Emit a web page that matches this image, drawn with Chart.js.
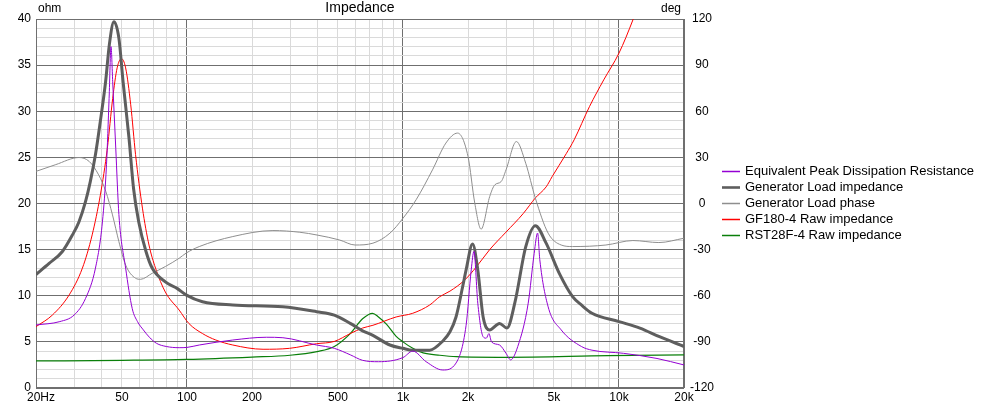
<!DOCTYPE html>
<html><head><meta charset="utf-8">
<script src="https://cdn.jsdelivr.net/npm/chart.js@4.4.1/dist/chart.umd.min.js"></script>
<style>
html,body{margin:0;padding:0;background:#fff;overflow:hidden}
#wrap{position:relative;width:993px;height:405px;font-family:"Liberation Sans",Arial,sans-serif;color:#000}
#c{position:absolute;left:0;top:0}
.t{position:absolute;white-space:nowrap;font-size:12px;line-height:12px}
.tx{position:absolute;left:745px;font-size:13px;line-height:14px;white-space:nowrap}
</style></head>
<body>
<div id="wrap">
<canvas id="c" width="993" height="405"></canvas>
<div class="t" style="left:38px;top:2px">ohm</div>
<div class="t" style="left:360px;top:0px;font-size:14px;line-height:14px;transform:translateX(-50%)">Impedance</div>
<div class="t" style="right:312px;top:1.5px">deg</div>
<div id="legend"></div>
</div>
<script>
// ---- data ----
const xTickLabels = {20:'   20Hz',50:'50',100:'100',200:'200',500:'500',1000:'1k',2000:'2k',5000:'5k',10000:'10k',20000:'20k'};
const xGridValues = [20,30,40,50,60,70,80,90,100,200,300,400,500,600,700,800,900,1000,2000,3000,4000,5000,6000,7000,8000,9000,10000,20000];

const epdrFreq = [20,25.8,30,33.9,37.7,40.6,42.4,43.6,44.5,45.3,46.8,48.4,52,55.8,59,62.8,67,72.2,80.2,92,100,114,163,233,278,398,481,570,650,770,1000,1110,1280,1530,1760,1960,2070,2130,2220,2350,2430,2500,2570,2800,3000,3150,3400,3800,4050,4200,4300,4700,5400,6700,7500,10500,15000,20000];
const epdrOhm  = [6.83,7.2,7.9,9.7,13.0,18.0,24.2,31.4,37.0,33.2,26.0,18.8,13.0,8.6,7.2,6.3,5.5,4.85,4.5,4.37,4.4,4.66,5.2,5.5,5.45,4.66,4.3,3.6,3.0,2.85,3.3,4.0,2.85,1.95,2.7,6.8,12.8,14.8,9.2,5.56,5.4,5.9,5.0,4.66,3.76,3.05,4.5,9.2,14.6,16.8,13.9,8.8,6.3,4.5,4.1,3.76,3.2,2.5];

const genZFreq = [20,23,26.5,29.5,31.6,33.9,35.7,37.7,39.7,42,43.7,45.9,48.4,50.6,53.9,56.6,59.8,64.6,69,79.4,90,99,118,163,278,398,481,570,650,726,870,1000,1110,1330,1530,1650,1760,1890,1960,2100,2220,2350,2520,2800,3030,3300,3700,4100,4600,5300,6100,6700,7500,10000,12500,15400,20000];
const genZOhm  = [12.3,13.5,14.8,16.6,18.0,20.2,22.4,25.3,28.9,33.2,37.2,39.7,37.9,33.2,27.1,21.6,18.0,14.8,13.0,11.5,10.8,10.1,9.35,9.0,8.8,8.27,7.9,7.0,6.2,5.7,4.66,4.3,4.1,4.1,5.1,6.1,7.7,11.0,12.8,15.6,12.8,7.7,6.3,7.0,6.5,9.3,15.3,17.6,15.7,12.4,9.9,9.0,8.1,7.2,6.5,5.56,4.5];

const phaseFreq = [20,24.7,31.6,35.3,39,42.1,45.2,48.4,52,57.8,61,69,79.4,92,99,114,163,250,333,400,508,600,726,870,1000,1150,1370,1580,1790,2000,2150,2300,2520,2660,2850,3000,3350,3700,4100,4700,5400,6100,8700,11600,15300,20000];
const phaseDeg  = [20.9,25.3,29.9,27.3,18.6,7.8,-7.4,-24.8,-40,-48.6,-49.3,-45.4,-41,-35.6,-32.3,-28,-21.5,-17.6,-18.7,-20.5,-23.7,-27,-25.8,-19.3,-9.6,2.4,21.9,39.3,45.8,30.6,0.2,-16.7,4.5,12.1,14.3,21.9,40.3,26.2,3.5,-19.3,-27,-28,-27,-24.1,-25.4,-22.6];

const wooferFreq = [20,23.8,28.5,32.8,36.4,39.7,42.8,45.3,47.5,49.7,52,54.9,57.8,62.2,66.7,71.5,79.4,92,102,118,136,163,225,298,398,481,570,650,726,930,1110,1330,1480,1650,1930,2190,2520,3000,3600,4100,4600,4900,5700,6200,7300,8500,10000,11600,12500];
const wooferOhm  = [6.65,7.9,10.1,13.0,16.6,20.9,26.0,31.4,34.7,35.7,34.7,30.7,25.3,19.5,15.5,13.0,10.4,8.45,7.0,5.9,5.2,4.66,4.2,4.3,4.8,5.05,5.9,6.5,6.8,7.7,8.1,9.0,9.9,10.5,11.7,13.15,15.0,16.9,18.9,20.6,21.8,22.9,25.4,26.9,30.5,33.4,36.3,39.9,42];

const tweeterFreq = [20,50,100,200,300,400,481,570,650,723,770,840,930,1000,1110,1240,1480,1770,3000,8900,20000];
const tweeterOhm  = [2.93,3.0,3.1,3.35,3.55,3.95,4.5,5.9,7.5,8.1,7.7,6.9,5.6,5.0,4.3,3.8,3.55,3.4,3.33,3.5,3.58];

const seriesNames = ['Equivalent Peak Dissipation Resistance','Generator Load impedance','Generator Load phase','GF180-4 Raw impedance','RST28F-4 Raw impedance'];
const seriesColors = ['#9400d3','#5e5e5e','#8e8e8e','#ff0000','#0a7f0a'];
const seriesWidths = [1,3,1,1,1.2];
const legendRowsY = [171, 187, 203, 219, 235];

// ---- build ----
const pts = (xs, ys) => xs.map((x, i) => ({x, y: ys[i]}));
const sets = [
  pts(epdrFreq, epdrOhm), pts(genZFreq, genZOhm), pts(phaseFreq, phaseDeg),
  pts(wooferFreq, wooferOhm), pts(tweeterFreq, tweeterOhm)
];
const datasets = sets.map((d, i) => ({
  label: seriesNames[i], data: d, borderColor: seriesColors[i], borderWidth: seriesWidths[i],
  yAxisID: i === 2 ? 'y2' : 'y', pointRadius: 0, fill: false, cubicInterpolationMode: 'monotone'
}));

const MAJOR = '#6f6f6f', MINOR = '#dadada';
const tickFont = {family: '"Liberation Sans", Arial, sans-serif', size: 12};

const frame = {
  id: 'frame',
  beforeDatasetsDraw(chart) {
    const {ctx, chartArea: a} = chart;
    ctx.save();
    ctx.strokeStyle = MAJOR; ctx.lineWidth = 1;
    ctx.strokeRect(Math.round(a.left) + 0.5, Math.round(a.top) + 0.5, Math.round(a.right - a.left) - 1, Math.round(a.bottom - a.top) - 1);
    ctx.restore();
  },
  afterDraw(chart) {
    // legend swatches (legend text is HTML)
    const ctx = chart.ctx;
    ctx.save();
    chart.data.datasets.forEach((ds, i) => {
      ctx.strokeStyle = ds.borderColor;
      ctx.lineWidth = ds.borderWidth >= 2 ? 2.6 : 1.5;
      const y = legendRowsY[i] + 0.5;
      ctx.beginPath(); ctx.moveTo(722, y); ctx.lineTo(740, y); ctx.stroke();
    });
    ctx.restore();
  }
};

new Chart(document.getElementById('c'), {
  type: 'line',
  data: {datasets},
  plugins: [frame],
  options: {
    responsive: false, animation: false,
    layout: {padding: {left: 0, right: 0, top: 19, bottom: 0}},
    plugins: {legend: {display: false}, tooltip: {enabled: false}},
    scales: {
      x: {
        type: 'logarithmic', min: 20, max: 20000,
        afterBuildTicks(s) { s.ticks = xGridValues.map(v => ({value: v})); },
        afterFit(s) { s.height = 17; },
        ticks: {autoSkip: false, maxRotation: 0, minRotation: 0, padding: 2, color: '#000', font: tickFont,
          callback(v) { return xTickLabels[v] !== undefined ? xTickLabels[v] : ''; }},
        grid: {drawTicks: false, color: c => ([20,100,1000,10000,20000].includes(c.tick && c.tick.value) ? MAJOR : MINOR)},
        border: {display: false}
      },
      y: {
        position: 'left', min: 0, max: 40,
        afterFit(s) { s.width = 36; },
        ticks: {stepSize: 1, padding: 5, color: '#000', font: tickFont, autoSkip: false,
          callback(v) { return v % 5 === 0 ? String(v) : ''; }},
        grid: {drawTicks: false, color: c => (c.tick && c.tick.value % 5 === 0 ? MAJOR : MINOR)},
        border: {display: false}
      },
      y2: {
        position: 'right', min: -120, max: 120,
        afterFit(s) { s.width = 309; },
        ticks: {stepSize: 30, padding: 6, crossAlign: 'center', color: '#000', font: tickFont},
        grid: {display: false, drawTicks: false},
        border: {display: false}
      }
    }
  }
});

// HTML legend text
const lg = document.getElementById('legend');
seriesNames.forEach((n, i) => {
  const tx = document.createElement('div');
  tx.className = 'tx';
  tx.style.top = (legendRowsY[i] - 7) + 'px';
  tx.textContent = n;
  lg.appendChild(tx);
});
</script>
</body></html>
